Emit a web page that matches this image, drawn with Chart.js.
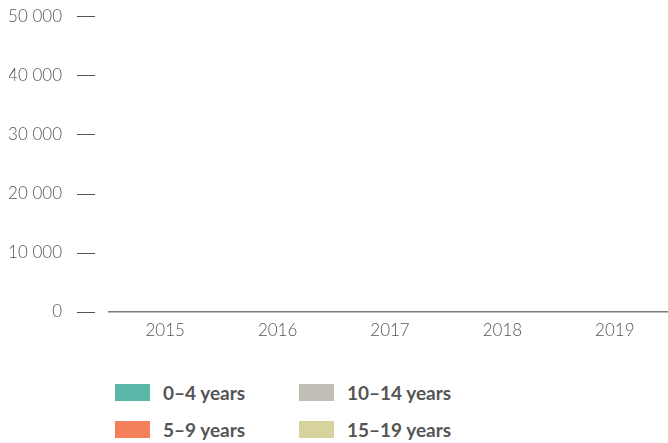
<!DOCTYPE html>
<html>
<head>
  <meta charset="utf-8">
  <title>Population by age group</title>
  <script src="https://cdnjs.cloudflare.com/ajax/libs/Chart.js/4.4.0/chart.umd.min.js"></script>
  <style>
    body {
      margin: 0;
      background-color: #fff;
      font-family: 'Lato', sans-serif;
    }
    .wrap {
      position: relative;
      width: 668px;
      height: 443px;
      overflow: hidden;
    }
    .chart-box {
      position: absolute;
      left: 0;
      top: -41px;
      width: 671px;
      height: 410px;
    }
    .legend {
      position: absolute;
      left: 115px;
      top: 383px;
      display: grid;
      grid-template-columns: 184px 200px;
      row-gap: 19px;
    }
    .legend-item {
      display: flex;
      align-items: center;
      font-weight: 700;
      font-size: 19px;
      color: #555;
      height: 18px;
    }
    .swatch {
      width: 35px;
      height: 17px;
      margin-right: 13px;
    }
  </style>
</head>
<body>
  <div class="wrap">
    <div class="chart-box">
      <canvas id="chart"></canvas>
    </div>
    <div class="legend" id="legend"></div>
  </div>

  <script>
    // 데이터
    const years = ['2015', '2016', '2017', '2018', '2019'];
    const ageGroups = ['0–4 years', '5–9 years', '10–14 years', '15–19 years'];
    const colors = ['#5bb8a9', '#f47f5b', '#c3bdb7', '#d7d39c'];
    // no bars are visible in the picture, so every value reads as 0
    const age0to4 = [0, 0, 0, 0, 0];
    const age5to9 = [0, 0, 0, 0, 0];
    const age10to14 = [0, 0, 0, 0, 0];
    const age15to19 = [0, 0, 0, 0, 0];
    const yTicks = [0, 10000, 20000, 30000, 40000, 50000];

    const seriesValues = [age0to4, age5to9, age10to14, age15to19];

    function fmt(v) {
      return String(v).replace(/\B(?=(\d{3})+(?!\d))/g, ' ');
    }

    // y축 눈금 옆의 짧은 가로선
    const tickDashes = {
      id: 'tickDashes',
      afterDraw(chart) {
        const y = chart.scales.y;
        const ctx = chart.ctx;
        const left = chart.chartArea.left;
        ctx.save();
        ctx.strokeStyle = '#555';
        ctx.lineWidth = 1;
        y.ticks.forEach((t, i) => {
          const py = Math.round(y.getPixelForTick(i)) + 0.5;
          ctx.beginPath();
          ctx.moveTo(left - 32, py);
          ctx.lineTo(left - 14, py);
          ctx.stroke();
        });
        ctx.restore();
      }
    };

    const chart = new Chart(document.getElementById('chart'), {
      type: 'bar',
      data: {
        labels: years,
        datasets: ageGroups.map((name, i) => ({
          label: name,
          data: seriesValues[i],
          backgroundColor: colors[i],
          borderWidth: 0
        }))
      },
      options: {
        responsive: true,
        maintainAspectRatio: false,
        animation: false,
        layout: {
          padding: { left: 9, right: 0, top: 0, bottom: 0 }
        },
        plugins: {
          legend: { display: false },
          tooltip: { enabled: false }
        },
        scales: {
          x: {
            stacked: true,
            grid: { display: false, drawTicks: false },
            border: { display: true, color: '#7a7a7a', width: 1.5 },
            ticks: {
              color: '#555',
              font: { family: 'Lato', size: 17, weight: 300 },
              padding: 9
            }
          },
          y: {
            stacked: true,
            min: 0,
            max: 50000,
            afterBuildTicks: (axis) => {
              axis.ticks = yTicks.map(v => ({ value: v }));
            },
            afterFit: (axis) => {
              axis.width = 100;
            },
            grid: { display: false, drawTicks: false },
            border: { display: false },
            ticks: {
              color: '#555',
              font: { family: 'Lato', size: 17, weight: 300 },
              padding: 47,
              callback: (v) => fmt(v)
            }
          }
        }
      },
      plugins: [tickDashes]
    });

    // 범례 (2열, 세로 순서)
    const legend = document.getElementById('legend');
    const order = [0, 2, 1, 3];
    order.forEach(i => {
      const item = document.createElement('div');
      item.className = 'legend-item';
      item.innerHTML = '<span class="swatch" style="background:' + colors[i] + '"></span>' + ageGroups[i];
      legend.appendChild(item);
    });
  </script>
</body>
</html>
